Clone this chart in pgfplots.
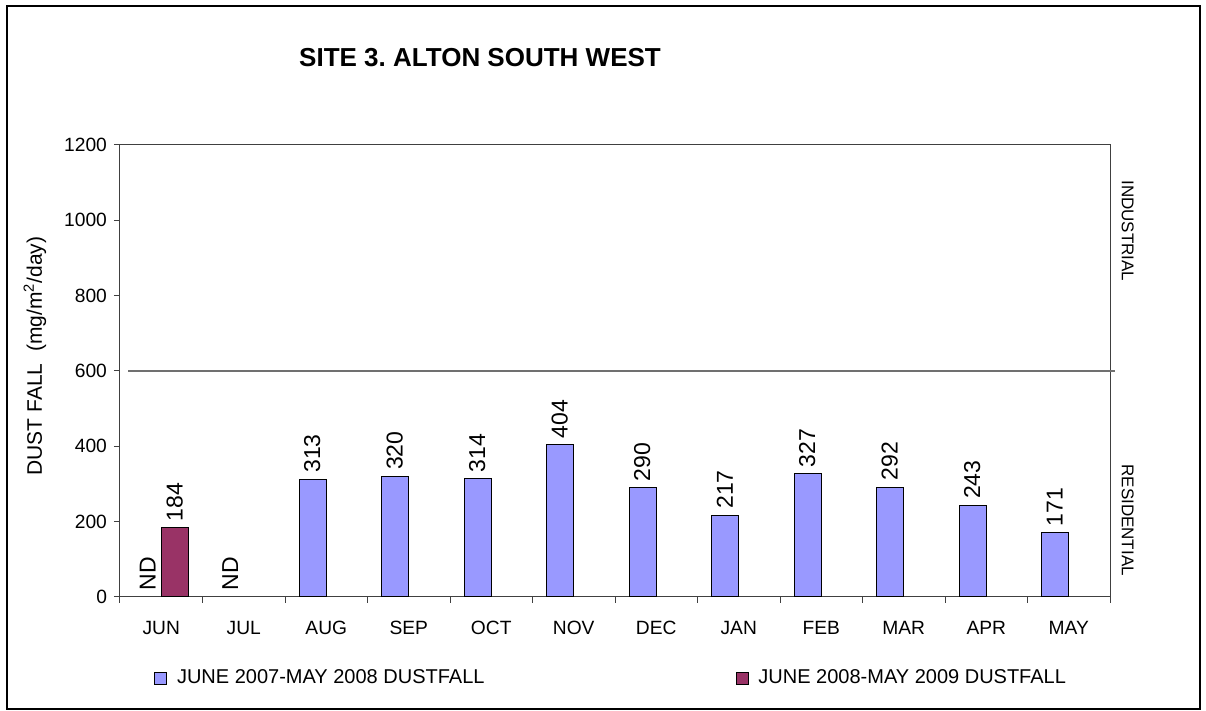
\documentclass[border=0pt]{standalone}
\usepackage{fontspec}
\setmainfont{Liberation Sans}
\usepackage{pgfplots}
\pgfplotsset{compat=1.18}
\definecolor{blueb}{HTML}{9999FF}
\definecolor{purp}{HTML}{993366}
\definecolor{axc}{HTML}{404040}
\begin{document}
\begin{tikzpicture}[x=1pt,y=1pt]
\useasboundingbox (0,0) rectangle (603,355.5);
\draw[line width=1pt] (3.5,1) rectangle (600,352.5);
\node[font=\bfseries\fontsize{13}{15}\selectfont] at (240,326.5) {SITE 3.\ ALTON SOUTH WEST};
\begin{axis}[
  at={(60pt,57pt)}, anchor=south west, scale only axis,
  width=495pt, height=226pt,
  xmin=-0.5, xmax=11.5, ymin=0, ymax=1200,
  ytick={0,200,...,1200},
  xtick={-0.5,0.5,...,11.5},
  x tick label as interval,
  xticklabels={JUN,JUL,AUG,SEP,OCT,NOV,DEC,JAN,FEB,MAR,APR,MAY},
  xticklabel style={yshift=-5.5pt},
  tick align=outside, tick pos=left,
  major tick length=3pt,
  axis line style={axc, line width=0.5pt},
  every tick/.style={axc, line width=0.5pt},
  tick label style={font=\fontsize{9.6}{11}\selectfont},
  /pgf/number format/assume math mode=true,
  /pgf/number format/1000 sep={},
  ylabel={DUST FALL\ \ (mg/m\textsuperscript{2}/day)},
  ylabel style={at={(axis description cs:-0.086,0.533)}, anchor=center, font=\fontsize{10.5}{12}\selectfont},
  clip=false,
  legend columns=2,
  legend style={draw=none, fill=none, at={(axis description cs:0.028,-0.18)}, anchor=west,
    font=\fontsize{10}{12}\selectfont,
    /tikz/every even column/.append style={column sep=123.5pt}},
]
\addplot[ybar, bar width=13.5pt, bar shift=-6.75pt, fill=blueb, draw=black, line width=0.5pt,
  legend image code/.code={\draw[fill=blueb,draw=black,line width=0.4pt] (0pt,-3pt) rectangle (6pt,3pt); \path (9pt,0pt);},
  nodes near coords={\rotatebox{90}{\pgfmathprintnumber{\pgfplotspointmeta}}},
  every node near coord/.append style={anchor=south, black, inner sep=3pt, xshift=-7pt, font=\fontsize{11.5}{13}\selectfont}]
coordinates {(2,313) (3,320) (4,314) (5,404) (6,290) (7,217) (8,327) (9,292) (10,243) (11,171)};
\addlegendentry{JUNE 2007-MAY 2008 DUSTFALL}
\addplot[ybar, bar width=13.5pt, bar shift=6.75pt, fill=purp, draw=black, line width=0.5pt,
  legend image code/.code={\draw[fill=purp,draw=black,line width=0.4pt] (0pt,-3pt) rectangle (6pt,3pt); \path (9pt,0pt);},
  nodes near coords={\rotatebox{90}{\pgfmathprintnumber{\pgfplotspointmeta}}},
  every node near coord/.append style={anchor=south, black, inner sep=3pt, xshift=6.75pt, font=\fontsize{11.5}{13}\selectfont}]
coordinates {(0,184)};
\addlegendentry{JUNE 2008-MAY 2009 DUSTFALL}
\addplot[ybar, bar width=13.5pt, bar shift=-6.75pt, draw=none, fill=none, forget plot,
  nodes near coords={\rotatebox{90}{ND}},
  every node near coord/.append style={anchor=south, black, inner sep=3pt, xshift=-6.75pt, font=\fontsize{11.5}{13}\selectfont}]
coordinates {(0,0) (1,0)};
\addplot[color={rgb,255:red,112;green,112;blue,112}, line width=0.8pt, forget plot] coordinates {(-0.4,600) (11.56,600)};
\node[rotate=-90, font=\fontsize{8.5}{10}\selectfont] at (axis description cs:1.018,0.81) {INDUSTRIAL};
\node[rotate=-90, font=\fontsize{8.5}{10}\selectfont] at (axis description cs:1.018,0.17) {RESIDENTIAL};
\end{axis}
\end{tikzpicture}
\end{document}
